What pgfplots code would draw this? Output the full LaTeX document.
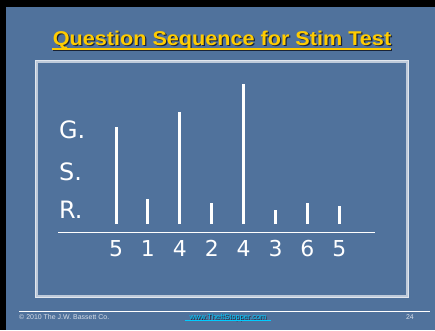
\documentclass[border=0pt]{standalone}
\usepackage{pgfplots}
\pgfplotsset{compat=1.18}
\usepackage{fontspec}
\setmainfont{DejaVu Sans}
\newfontfamily\arialfont{Liberation Sans}
\definecolor{slidebg}{RGB}{80,114,156}
\definecolor{titleyellow}{RGB}{255,204,0}
\definecolor{boxline}{RGB}{190,202,218}
\definecolor{boxinner}{RGB}{225,230,238}
\definecolor{linkcyan}{RGB}{0,204,255}
\definecolor{shadowc}{RGB}{25,35,55}
\definecolor{foottext}{RGB}{215,222,232}
\begin{document}
\begin{tikzpicture}[x=1bp,y=1bp]
\useasboundingbox (0,0) rectangle (435,330);
\fill[black] (0,0) rectangle (435,330);
\fill[slidebg] (6,0) rectangle (435,323);
% title
\node[text=shadowc, anchor=base, inner sep=0pt, xscale=1.085, font=\arialfont\bfseries\fontsize{20}{22}\selectfont] at (223.3,283.7) {Question Sequence for Stim Test};
\node[text=titleyellow, anchor=base, inner sep=0pt, xscale=1.085, font=\arialfont\bfseries\fontsize{20}{22}\selectfont] at (222,285) {Question Sequence for Stim Test};
\draw[shadowc, line width=1.8bp] (53.3,279.7) -- (392.3,279.7);
\draw[titleyellow, line width=1.8bp] (52,281) -- (391,281);
% inner box
\draw[boxline, line width=3bp] (36,269) rectangle (407,34);
\draw[boxinner, line width=0.8bp] (35,270) rectangle (408,33);
% G. S. R.
\node[white, anchor=base west, inner sep=0pt, font=\fontsize{24}{24}\selectfont] at (59,192) {G.};
\node[white, anchor=base west, inner sep=0pt, font=\fontsize{24}{24}\selectfont] at (59,150) {S.};
\node[white, anchor=base west, inner sep=0pt, font=\fontsize{24}{24}\selectfont] at (59,112) {R.};
% chart
\begin{axis}[
  at={(58bp,98bp)}, anchor=south west,
  scale only axis, width=317bp, height=153bp,
  xmin=-0.82, xmax=9.12, ymin=-8, ymax=145,
  axis x line=bottom, axis y line=none,
  x axis line style={-, white, line width=0.8bp},
  xtick={1,2,3,4,5,6,7,8},
  xticklabels={5,1,4,2,4,3,6,5},
  ytick=\empty,
  major tick length=0pt,
  /pgf/number format/assume math mode=true,
  xticklabel style={text=white, font=\fontsize{22}{22}\selectfont, inner sep=1pt, yshift=-7bp},
  clip=false,
]
\addplot[ycomb, white, line width=3bp, mark=none] coordinates {(1,97) (2,25) (3,112) (4,21) (5,140) (6,14) (7,21) (8,18)};
\end{axis}
% footer
\draw[white, line width=0.9bp] (19,19) -- (430,19);
\node[text=foottext, anchor=base west, inner sep=0pt, font=\arialfont\fontsize{7}{8}\selectfont] at (19,10.5) {\textcopyright{} 2010 The J.W. Bassett Co.};
\node[text=shadowc, anchor=base, inner sep=0pt, font=\arialfont\fontsize{7.5}{8}\selectfont] at (228.8,9.8) {www.TheftStopper.com};
\node[text=linkcyan, anchor=base, inner sep=0pt, font=\arialfont\fontsize{7.5}{8}\selectfont] at (228,10.5) {www.TheftStopper.com};
\draw[linkcyan, line width=0.6bp] (185,9.3) -- (271,9.3);
\node[text=foottext, anchor=base east, inner sep=0pt, font=\arialfont\fontsize{7}{8}\selectfont] at (414,10.5) {24};
\end{tikzpicture}
\end{document}
